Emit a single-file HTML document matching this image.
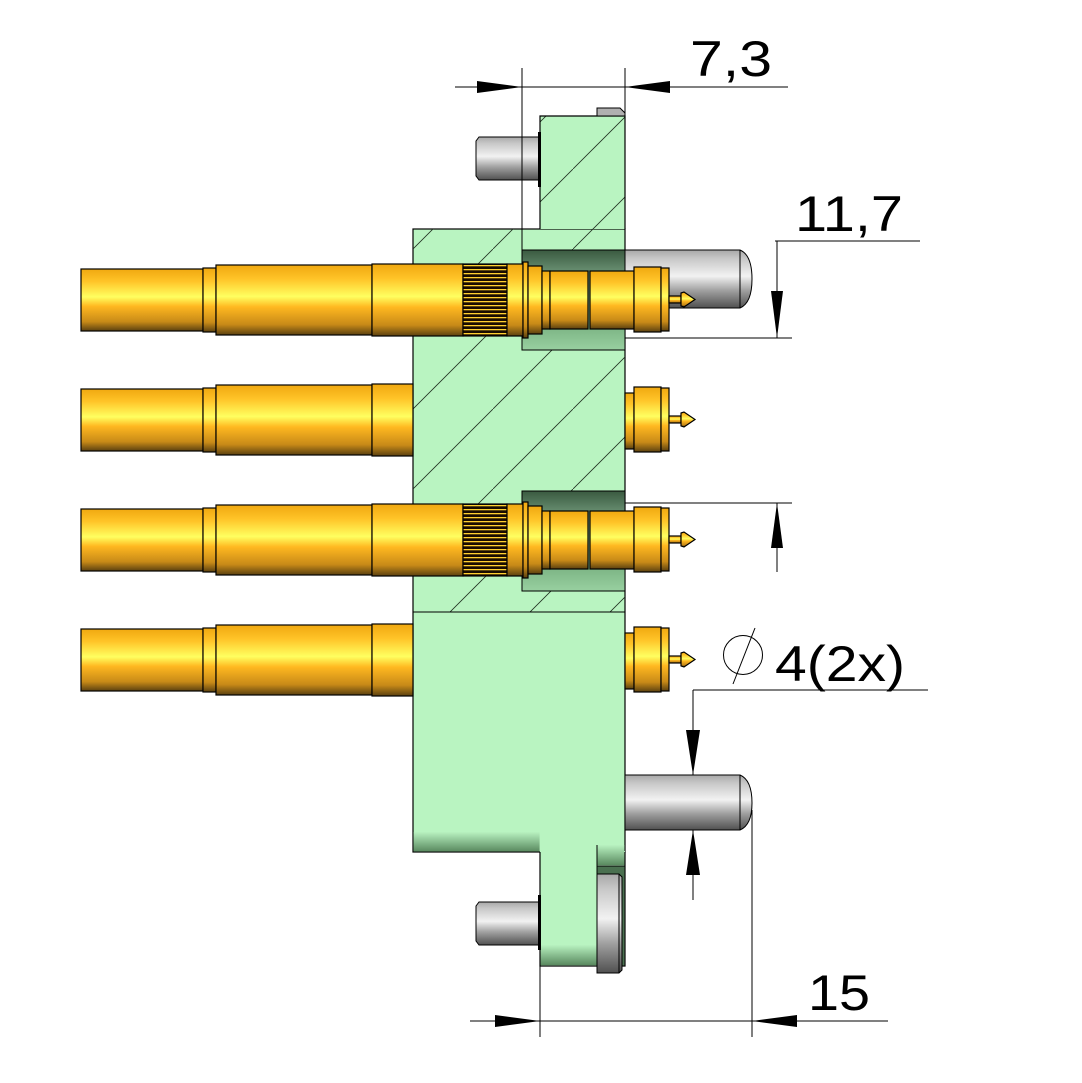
<!DOCTYPE html>
<html><head><meta charset="utf-8"><style>html,body{margin:0;padding:0;background:#fff}svg{display:block}</style></head><body>
<svg width="1082" height="1083" viewBox="0 0 1082 1083" xmlns="http://www.w3.org/2000/svg">
<defs>
<linearGradient id="gold" x1="0" y1="0" x2="0" y2="1">
<stop offset="0" stop-color="#f0a810"/><stop offset="0.2" stop-color="#ffc428"/><stop offset="0.45" stop-color="#ffff60"/><stop offset="0.6" stop-color="#ffb820"/><stop offset="0.85" stop-color="#c88a18"/><stop offset="1" stop-color="#5a4010"/>
</linearGradient>
<linearGradient id="gray" x1="0" y1="0" x2="0" y2="1">
<stop offset="0" stop-color="#a8a8a8"/><stop offset="0.15" stop-color="#c8c8c8"/><stop offset="0.45" stop-color="#f2f2f2"/><stop offset="0.7" stop-color="#a0a0a0"/><stop offset="1" stop-color="#505050"/>
</linearGradient>
<linearGradient id="shade" x1="0" y1="0" x2="0" y2="1">
<stop offset="0" stop-color="#b8f2c0"/><stop offset="1" stop-color="#5a8a60"/>
</linearGradient>
<linearGradient id="pocket" x1="0" y1="0" x2="0" y2="1">
<stop offset="0" stop-color="#3a5a40"/><stop offset="0.25" stop-color="#70987a"/><stop offset="0.8" stop-color="#80b888"/><stop offset="1" stop-color="#98d0a0"/>
</linearGradient>
<pattern id="hatch" patternUnits="userSpaceOnUse" width="80" height="80" x="13" y="9">
<path d="M0 80 L80 0" stroke="#203020" stroke-width="0.8"/>
</pattern>
<pattern id="knurl" patternUnits="userSpaceOnUse" width="4" height="4">
<rect width="4" height="4" fill="#1a0c00"/><rect y="1" width="4" height="1.3" fill="#ffd030"/>
</pattern>
</defs>

<rect x="413" y="229" width="212" height="623" fill="#b9f4c1" stroke="#000" stroke-width="1.2"/>
<rect x="540" y="116" width="85" height="113" fill="#b9f4c1"/>
<rect x="413" y="229" width="212" height="383" fill="url(#hatch)"/>
<rect x="540" y="116" width="85" height="113" fill="url(#hatch)"/>
<path d="M540 229 V116 H625 V229" fill="none" stroke="#000" stroke-width="1.2"/>
<line x1="413" y1="612" x2="625" y2="612" stroke="#000" stroke-width="1"/>
<rect x="413.6" y="832" width="126" height="19.4" fill="url(#shade)"/>
<line x1="413" y1="852" x2="540" y2="852" stroke="#000"/>
<rect x="540" y="851" width="85" height="115" fill="#b9f4c1"/>
<rect x="540.6" y="945" width="60" height="20" fill="url(#shade)"/>
<rect x="597" y="845" width="27.4" height="20" fill="url(#shade)"/>
<path d="M540 852 V966 H625 V852" fill="none" stroke="#000" stroke-width="1.2"/>
<line x1="597" y1="845" x2="597" y2="866" stroke="#000"/>
<rect x="597" y="866" width="28" height="100" fill="#4a7050" stroke="#000"/>

<rect x="522" y="250" width="103" height="100" fill="url(#pocket)" stroke="#000"/>
<rect x="522" y="491" width="103" height="100" fill="url(#pocket)" stroke="#000"/>

<path d="M479 137 H540 V180 H479 L476 176 V141 Z" fill="url(#gray)" stroke="#000"/>
<rect x="538" y="132" width="3" height="55" fill="#000"/>
<path d="M597 108 H620 L625 113 V116 H597 Z" fill="#b0b0b0" stroke="#000"/>
<path d="M625 250 H740 Q752 255 752 279 Q752 303 740 308 H625 Z" fill="url(#gray)" stroke="#000"/>
<line x1="740" y1="250" x2="740" y2="308" stroke="#000"/>
<path d="M625 775 H740 Q752 780 752 803 Q752 825 740 830 H625 Z" fill="url(#gray)" stroke="#000"/>
<line x1="740" y1="775" x2="740" y2="830" stroke="#000"/>
<path d="M479 902 H540 V945 H479 L476 941 V906 Z" fill="url(#gray)" stroke="#000"/>
<rect x="538" y="895" width="3" height="55" fill="#000"/>
<path d="M597 874 H619 L622 877 V970 L619 973 H597 Z" fill="url(#gray)" stroke="#000"/>
<line x1="619" y1="874" x2="619" y2="973" stroke="#000"/>

<g id="row1" stroke="#000" stroke-width="1.2">
<rect x="81" y="269" width="122" height="62" fill="url(#gold)"/>
<rect x="203" y="268" width="13" height="64" fill="url(#gold)"/>
<rect x="216" y="265" width="156" height="70" fill="url(#gold)"/>
<rect x="372" y="264" width="91" height="72" fill="url(#gold)"/>
<rect x="463" y="264" width="44" height="72" fill="url(#knurl)"/>
<rect x="507" y="264" width="16" height="72" fill="url(#gold)"/>
<rect x="523" y="262" width="5" height="76" fill="url(#gold)"/>
<rect x="528" y="266" width="14" height="68" fill="url(#gold)"/>
<rect x="542" y="271" width="8" height="58" fill="url(#gold)"/>
<rect x="550" y="271" width="38" height="58" fill="url(#gold)"/>
<rect x="590" y="271" width="44" height="58" fill="url(#gold)"/>
<rect x="634" y="267" width="27" height="65" fill="url(#gold)"/>
<rect x="661" y="268" width="8" height="63" fill="url(#gold)"/>
<rect x="669" y="296" width="12" height="7" fill="url(#gold)"/>
<path d="M681 293 L684 292 L695 299.5 L684 307 L681 306 Z" fill="url(#gold)"/>
</g>
<use href="#row1" y="240"/>
<g id="row2" stroke="#000" stroke-width="1.2">
<rect x="81" y="389" width="122" height="62" fill="url(#gold)"/>
<rect x="203" y="388" width="13" height="64" fill="url(#gold)"/>
<rect x="216" y="385" width="156" height="70" fill="url(#gold)"/>
<rect x="372" y="384" width="41" height="72" fill="url(#gold)"/>
<rect x="625" y="393" width="9" height="56" fill="url(#gold)"/>
<rect x="634" y="387" width="27" height="65" fill="url(#gold)"/>
<rect x="661" y="388" width="8" height="63" fill="url(#gold)"/>
<rect x="669" y="416" width="12" height="7" fill="url(#gold)"/>
<path d="M681 413 L684 412 L695 419.5 L684 427 L681 426 Z" fill="url(#gold)"/>
</g>
<use href="#row2" y="240"/>

<g stroke="#000" stroke-width="1" fill="none">
<line x1="522" y1="68" x2="522" y2="250"/>
<line x1="625" y1="68" x2="625" y2="116"/>
<line x1="455" y1="87" x2="788" y2="87"/>
<line x1="775" y1="241" x2="920" y2="241"/>
<line x1="625" y1="338" x2="792" y2="338"/>
<line x1="777" y1="241" x2="777" y2="338"/>
<line x1="625" y1="503" x2="792" y2="503"/>
<line x1="777" y1="503" x2="777" y2="572"/>
<line x1="693" y1="690" x2="928" y2="690"/>
<line x1="693" y1="690" x2="693" y2="775"/>
<line x1="693" y1="830" x2="693" y2="900"/>
<line x1="540" y1="966" x2="540" y2="1037"/>
<line x1="752" y1="810" x2="752" y2="1037"/>
<line x1="470" y1="1021" x2="888" y2="1021"/>
<circle cx="743" cy="655" r="19.5"/>
<line x1="733" y1="684" x2="755" y2="628"/>
</g>
<g fill="#000">
<path d="M477 81 L522 87 L477 93 Z"/>
<path d="M670 81 L625 87 L670 93 Z"/>
<path d="M771 291 L777 338 L783 291 Z"/>
<path d="M771 548 L777 503 L783 548 Z"/>
<path d="M686 730 L693 775 L700 730 Z"/>
<path d="M686 875 L693 830 L700 875 Z"/>
<path d="M495 1015 L540 1021 L495 1027 Z"/>
<path d="M797 1015 L752 1021 L797 1027 Z"/>
</g>
<g font-family="'Liberation Sans', 'DejaVu Sans', sans-serif" font-size="50" fill="#000">
<text x="690" y="76" textLength="82" lengthAdjust="spacingAndGlyphs">7,3</text>
<text x="795" y="231" textLength="108" lengthAdjust="spacingAndGlyphs">11,7</text>
<text x="775" y="681" textLength="130" lengthAdjust="spacingAndGlyphs">4(2x)</text>
<text x="808" y="1010" textLength="62" lengthAdjust="spacingAndGlyphs">15</text>
</g>
</svg>
</body></html>
